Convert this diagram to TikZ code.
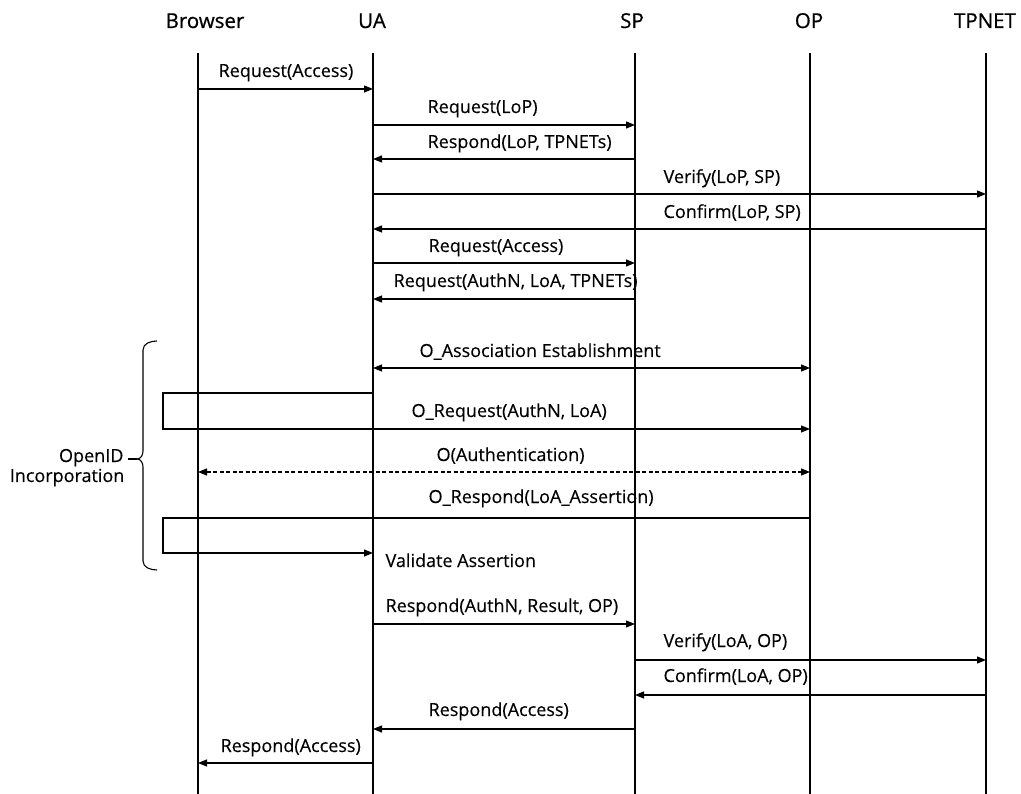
\documentclass[tikz,border=0pt]{standalone}
\usepackage{fontspec}
\setmainfont{Open Sans}[FakeBold=0.3]
\newfontfamily\hdrfont[FakeBold=0.7]{Open Sans}
\usetikzlibrary{arrows.meta}
\begin{document}
\begin{tikzpicture}[x=1pt,y=-1pt,line width=1.2pt,
  lbl/.style={anchor=base west,inner sep=0pt,font=\fontsize{18}{20}\selectfont},
  hdr/.style={anchor=base,inner sep=0pt,font=\hdrfont\fontsize{20.5}{22}\selectfont},
  msg/.style={-{Triangle[length=9pt,width=7pt]}},
  both/.style={{Triangle[length=9pt,width=7pt]}-{Triangle[length=9pt,width=7pt]}},
  dsh/.style={dash pattern=on 4pt off 2.5pt}]
\useasboundingbox (0,0) rectangle (1021,794);
% headers
\node[hdr] (hb) at (205,28) {Browser};
\node[hdr] (hu) at (372,28) {UA};
\node[hdr] (hs) at (632,28) {SP};
\node[hdr] (ho) at (809,28) {OP};
\node[hdr] (ht) at (985,28) {TPNET};
% lifelines
\coordinate (b) at (198,53);
\coordinate (u) at (373,53);
\coordinate (s) at (635,53);
\coordinate (o) at (810,53);
\coordinate (t) at (986,53);
\coordinate (bot) at (0,794);
\foreach \l in {b,u,s,o,t} \draw (\l) -- (\l |- bot);
% messages
\draw[msg] (b |- 0,89) -- (u |- 0,89);
\node[lbl] (m1) at (218,77) {Request(Access)};
\draw[msg] (u |- 0,125) -- (s |- 0,125);
\node[lbl] (m2) at (427,113) {Request(LoP)};
\draw[msg] (s |- 0,159) -- (u |- 0,159);
\node[lbl] (m3) at (427,148) {Respond(LoP, TPNETs)};
\draw[msg] (u |- 0,194) -- (t |- 0,194);
\node[lbl] (m4) at (663,183) {Verify(LoP, SP)};
\draw[msg] (t |- 0,229) -- (u |- 0,229);
\node[lbl] (m5) at (663,218) {Confirm(LoP, SP)};
\draw[msg] (u |- 0,263) -- (s |- 0,263);
\node[lbl] (m6) at (428,252) {Request(Access)};
\draw[msg] (s |- 0,299) -- (u |- 0,299);
\node[lbl] (m7) at (393,287) {Request(AuthN, LoA, TPNETs)};
\draw[both] (u |- 0,368) -- (o |- 0,368);
\node[lbl] (m8) at (419,357) {O\_Association Establishment};
% O_Request loop
\coordinate (l1a) at (163,393);
\coordinate (l1b) at (163,429);
\draw[msg] (u |- l1a) -- (l1a) -- (l1b) -- (o |- l1b);
\node[lbl] (m9) at (411,417) {O\_Request(AuthN, LoA)};
\draw[both,dsh] (b |- 0,472) -- (o |- 0,472);
\node[lbl] (m10) at (436,461) {O(Authentication)};
% O_Respond loop
\coordinate (l2a) at (163,518);
\coordinate (l2b) at (163,553);
\draw[msg] (o |- l2a) -- (l2a) -- (l2b) -- (u |- l2b);
\node[lbl] (m11) at (428,503) {O\_Respond(LoA\_Assertion)};
\node[lbl] (m12) at (385,567) {Validate Assertion};
\draw[msg] (u |- 0,624) -- (s |- 0,624);
\node[lbl] (m13) at (385,612) {Respond(AuthN, Result, OP)};
\draw[msg] (s |- 0,660) -- (t |- 0,660);
\node[lbl] (m14) at (663,647) {Verify(LoA, OP)};
\draw[msg] (t |- 0,695) -- (s |- 0,695);
\node[lbl] (m15) at (663,682) {Confirm(LoA, OP)};
\draw[msg] (s |- 0,729) -- (u |- 0,729);
\node[lbl] (m16) at (428,716) {Respond(Access)};
\draw[msg] (u |- 0,763) -- (b |- 0,763);
\node[lbl] (m17) at (220,752) {Respond(Access)};
% brace
\coordinate (btop) at (157,341);
\coordinate (bbot) at (157,570);
\coordinate (tip) at (137,459);
\draw[line width=1.1pt] (btop) to[out=180,in=90] (143,350) -- (143,451) to[out=-90,in=0] (tip)
  to[out=0,in=90] (143,467) -- (143,561) to[out=-90,in=180] (bbot);
\node[lbl,anchor=base east] (oid) at (124,462) {OpenID};
\node[lbl,anchor=base east] (inc) at (125,482) {Incorporation};
\coordinate (dash0) at (128,459);
\draw[line width=1.1pt] (dash0) -- (tip);
\end{tikzpicture}
\end{document}
